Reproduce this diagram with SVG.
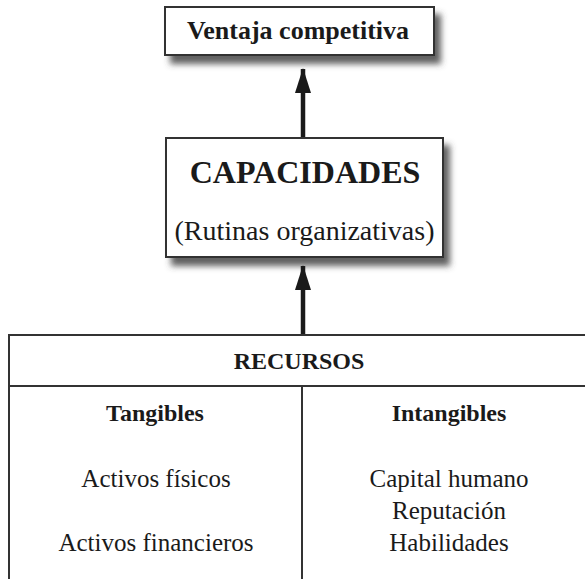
<svg xmlns="http://www.w3.org/2000/svg" width="585" height="579" viewBox="0 0 585 579">
<defs>
<filter id="sh" x="-10%" y="-30%" width="130%" height="180%">
<feDropShadow dx="6" dy="8" stdDeviation="3" flood-color="#444" flood-opacity="0.85"/>
</filter>
<marker id="ah" viewBox="0 0 25 16" refX="24" refY="8" markerWidth="25" markerHeight="16" markerUnits="userSpaceOnUse" orient="auto">
<path d="M0 0 L25 8 L0 16 Z" fill="#1a1a1a"/>
</marker>
</defs>
<style>
.box{fill:#fff;stroke:#333;stroke-width:2}
.ln{stroke:#333;stroke-width:2;fill:none}
.t{font-family:"Liberation Serif","Times New Roman",serif;fill:#1a1a1a;text-anchor:middle}
.b{font-weight:bold}
.arr{stroke:#1a1a1a;stroke-width:4.5;fill:none}
</style>
<rect width="585" height="579" fill="#fff"/>
<g id="ventaja">
<rect class="box" x="165" y="7" width="269" height="48" filter="url(#sh)"/>
<text class="t b" x="298" y="39" font-size="26">Ventaja competitiva</text>
</g>
<g id="capacidades">
<rect class="box" x="166" y="138" width="277" height="119" filter="url(#sh)"/>
<text class="t b" x="305" y="183" font-size="32">CAPACIDADES</text>
<text class="t" x="304.5" y="240" font-size="28">(Rutinas organizativas)</text>
</g>
<g id="recursos">
<rect class="box" x="9" y="335" width="590" height="260"/>
<line class="ln" x1="9" y1="386" x2="599" y2="386"/>
<line class="ln" x1="302" y1="386" x2="302" y2="595"/>
<text class="t b" x="299" y="369" font-size="24">RECURSOS</text>
<text class="t b" x="155" y="421" font-size="24">Tangibles</text>
<text class="t b" x="449" y="421" font-size="24">Intangibles</text>
<text class="t" x="156" y="487" font-size="25">Activos físicos</text>
<text class="t" x="156" y="551" font-size="25">Activos financieros</text>
<text class="t" x="449" y="487" font-size="25">Capital humano</text>
<text class="t" x="449" y="519" font-size="25">Reputación</text>
<text class="t" x="449" y="551" font-size="25">Habilidades</text>
</g>
<g id="connectors">
<line class="arr" x1="303" y1="137" x2="303" y2="69" marker-end="url(#ah)"/>
<line class="arr" x1="303" y1="334" x2="303" y2="266" marker-end="url(#ah)"/>
</g>
</svg>
